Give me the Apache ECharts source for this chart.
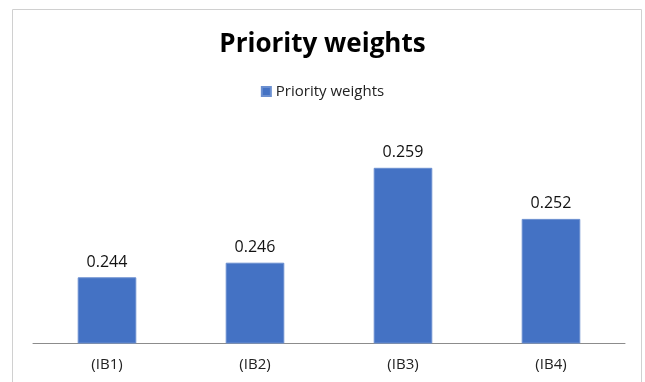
<!DOCTYPE html>
<html>
<head>
<meta charset="utf-8">
<script src="https://cdn.jsdelivr.net/npm/echarts@6/dist/echarts.min.js"></script>
<style>
  html, body { margin: 0; padding: 0; background: #fff; }
  #chart { width: 645px; height: 382px; }
</style>
</head>
<body>
<div id="chart"></div>
<script>
// data
const categories = ['(IB1)', '(IB2)', '(IB3)', '(IB4)'];
const weights = [0.244, 0.246, 0.259, 0.252];
const seriesName = 'Priority weights';

const chart = echarts.init(document.getElementById('chart'), null, { renderer: 'canvas' });

const option = {
  animation: false,
  textStyle: { fontFamily: 'Open Sans' },
  title: {
    text: 'Priority weights',
    left: 'center',
    top: 27,
    textStyle: { fontSize: 26, fontWeight: 'bold', color: '#000', fontFamily: 'Open Sans' }
  },
  legend: {
    data: [seriesName],
    top: 79,
    left: 'center',
    icon: 'rect',
    itemWidth: 9,
    itemHeight: 9,
    itemGap: 5,
    textStyle: { fontSize: 15, color: '#222', fontFamily: 'Open Sans' }
  },
  // 外边框
  graphic: [{
    type: 'rect',
    shape: { x: 12.5, y: 9.5, width: 629, height: 380 },
    style: { fill: 'none', stroke: '#d0d0d0', lineWidth: 1 },
    silent: true
  }],
  grid: {
    left: 33,
    right: 20,
    top: 124,
    bottom: 39
  },
  xAxis: {
    type: 'category',
    data: categories,
    axisTick: { show: false },
    axisLine: { lineStyle: { color: '#8c8c8c', width: 1 } },
    axisLabel: { color: '#222', fontSize: 15, margin: 14, fontFamily: 'Open Sans' }
  },
  yAxis: {
    type: 'value',
    min: 0.235,
    max: 0.265,
    show: false,
    splitLine: { show: false }
  },
  series: [{
    name: seriesName,
    type: 'bar',
    data: weights,
    barWidth: '39.6%',
    itemStyle: { color: '#4472c4', borderColor: '#6b8fd0', borderWidth: 1 },
    label: {
      show: true,
      position: 'top',
      distance: 7,
      color: '#111',
      fontSize: 16,
      fontFamily: 'Open Sans',
      formatter: p => p.value.toFixed(3)
    }
  }]
};

chart.setOption(option);
</script>
</body>
</html>
